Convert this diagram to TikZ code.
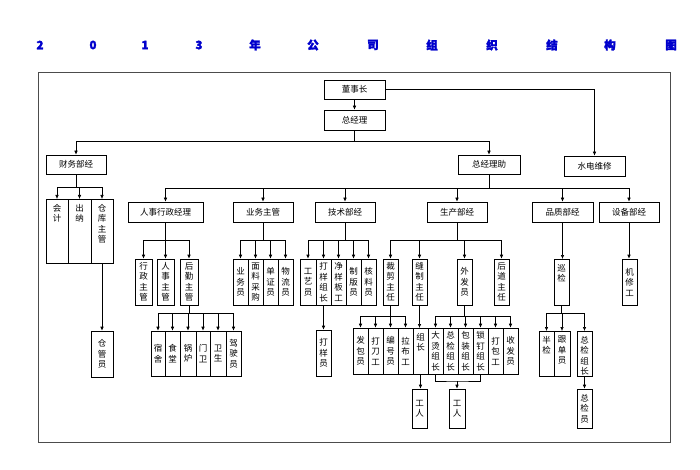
\documentclass[tikz,border=0pt]{standalone}
\usepackage{fontspec}
\setmainfont{Noto Sans CJK SC}
\newfontfamily\ttlfont[FakeBold=2.5]{Noto Sans CJK SC}
\usetikzlibrary{arrows.meta}
\tikzset{
  box/.style={draw,line width=0.6pt,inner sep=0pt,font=\fontsize{8.5}{10.5}\selectfont,align=center},
  arr/.style={line width=0.6pt,-{Latex[length=4pt,width=3.5pt]}},
  ln/.style={line width=0.6pt},
  ttl/.style={text=blue!80!black,font=\ttlfont\bfseries\fontsize{11.5}{12}\selectfont}
}
% name, x1, y1, x2, y2, text
\newcommand{\bx}[6]{\node[box,minimum width={#4pt-#2pt},minimum height={#5pt-#3pt},anchor=center] (#1) at ({(#2+#4)/2},{(#3+#5)/2}) {#6};}
\newcommand{\tbx}[6]{\node[box,minimum width={#4pt-#2pt},minimum height={#5pt-#3pt},anchor=north] (#1) at ({(#2+#4)/2},#3) {};
  \node[anchor=north,align=center,inner sep=0pt,font=\fontsize{8.5}{10.5}\selectfont] at ({(#2+#4)/2},{#3+5}) {#6};}
\begin{document}
\begin{tikzpicture}[x=1pt,y=-1pt]
\useasboundingbox (0,0) rectangle (700,470);
% title
\foreach \c/\x in {2/40,0/93,1/145,3/199,年/255,公/313,司/373,组/432,织/492,结/552,构/610,图/671}
  \node[ttl] at (\x,45) {\c};
\draw[line width=0.8pt,draw=black!70] (38,72) rectangle (670,442);
% top
\bx{dsz}{324}{80}{385}{99}{董事长}
\bx{zjl}{324}{110}{385}{130}{总经理}
\bx{cw}{46}{155}{106}{174}{财务部经}
\bx{zl}{458}{155}{520}{174}{总经理助}
\bx{sd}{564}{156}{625}{176}{水电维修}
\draw[arr] (dsz) -- (zjl);
\draw[arr] (dsz.east) -| (sd.north);
\foreach \c in {cw,zl} \draw[arr] (zjl.south) -- (zjl.south|-0,141) -| (\c.north);
% level 2
\bx{rs}{128}{202}{203}{222}{人事行政经理}
\bx{yw}{233}{202}{293}{222}{业务主管}
\bx{js}{315}{202}{375}{222}{技术部经}
\bx{sc}{427}{202}{487}{222}{生产部经}
\bx{pz}{532}{202}{593}{222}{品质部经}
\bx{sb}{599}{202}{659}{222}{设备部经}
\foreach \c in {rs,yw,js,sc,pz,sb} \draw[arr] (zl.south) -- (zl.south|-0,188) -| (\c.north);
% finance
\tbx{kj}{46}{199}{68}{263}{会\\计}
\tbx{cn}{68}{199}{91}{263}{出\\纳}
\tbx{ck}{91}{199}{113}{263}{仓\\库\\主\\管}
\bx{cgy}{91}{331}{113}{377}{仓\\管\\员}
\foreach \c in {kj,cn,ck} \draw[arr] (cw.south) -- (cw.south|-0,187) -| (\c.north);
\draw[arr] (ck.south) -- (cgy.north);
% renshi
\bx{xz}{135}{259}{152}{305}{行\\政\\主\\管}
\bx{rz}{157}{259}{174}{305}{人\\事\\主\\管}
\bx{hq}{180}{259}{198}{305}{后\\勤\\主\\管}
\foreach \c in {xz,rz,hq} \draw[arr] (rs.south) -- (rs.south|-0,240) -| (\c.north);
\bx{ss}{151}{331}{165}{376}{宿\\舍}
\bx{st}{165}{331}{180}{376}{食\\堂}
\bx{gl}{180}{331}{196}{376}{锅\\炉}
\bx{mw}{196}{331}{210}{376}{门\\卫}
\bx{ws}{210}{331}{226}{376}{卫\\生}
\bx{js2}{226}{331}{241}{376}{驾\\驶\\员}
\foreach \c in {ss,st,gl,mw,ws,js2} \draw[arr] (hq.south) -- (hq.south|-0,313) -| (\c.north);
% yewu
\bx{ywy}{233}{259}{248}{305}{业\\务\\员}
\bx{mlcg}{248}{259}{263}{305}{面\\料\\采\\购}
\bx{dzy}{263}{259}{278}{305}{单\\证\\员}
\bx{wly}{278}{259}{293}{305}{物\\流\\员}
\foreach \c in {ywy,mlcg,dzy,wly} \draw[arr] (yw.south) -- (yw.south|-0,240) -| (\c.north);
% jishu
\bx{gy}{300}{259}{316}{305}{工\\艺\\员}
\bx{dyzz}{316}{259}{331}{305}{打\\样\\组\\长}
\bx{jyb}{331}{259}{346}{305}{净\\样\\板\\工}
\bx{zby}{346}{259}{361}{305}{制\\版\\员}
\bx{hly}{361}{259}{376}{305}{核\\料\\员}
\foreach \c in {gy,dyzz,jyb,zby,hly} \draw[arr] (js.south) -- (js.south|-0,240) -| (\c.north);
\bx{dyy}{316}{330}{331}{376}{打\\样\\员}
\draw[arr] (dyzz.south) -- (dyy.north);
% shengchan
\bx{cj}{383}{259}{398}{305}{裁\\剪\\主\\任}
\bx{fz}{412}{259}{427}{305}{缝\\制\\主\\任}
\bx{wf}{457}{259}{472}{305}{外\\发\\员}
\bx{hd}{494}{259}{509}{305}{后\\道\\主\\任}
\foreach \c in {cj,fz,wf,hd} \draw[arr] (sc.south) -- (sc.south|-0,240) -| (\c.north);
\bx{fby}{353}{328}{368}{374}{发\\包\\员}
\bx{ddg}{368}{328}{383}{374}{打\\刀\\工}
\bx{bhy}{383}{328}{398}{374}{编\\号\\员}
\bx{lbg}{398}{328}{413}{374}{拉\\布\\工}
\tbx{zz}{413}{328}{428}{374}{组\\长}
\bx{dt}{428}{328}{443}{374}{大\\烫\\组\\长}
\bx{zj}{443}{328}{458}{374}{总\\检\\组\\长}
\bx{bz}{458}{328}{473}{374}{包\\装\\组\\长}
\bx{sdz}{473}{328}{488}{374}{锁\\钉\\组\\长}
\bx{dbg}{488}{328}{503}{374}{打\\包\\工}
\bx{sfy}{503}{328}{518}{374}{收\\发\\员}
\foreach \c in {fby,ddg,bhy,lbg} \draw[arr] (cj.south) -- (cj.south|-0,316) -| (\c.north);
\draw[arr] (fz.south) -- (fz.south|-zz.north);
\foreach \c in {dt,zj,bz,sdz,dbg,sfy} \draw[arr] (wf.south) -- (wf.south|-0,316) -| (\c.north);
\bx{gr1}{412}{389}{427}{428}{工\\人}
\bx{gr2}{449}{389}{465}{428}{工\\人}
\draw[arr] (zz.south) -- (zz.south|-gr1.north);
\coordinate (jn) at (457,381);
\draw[ln] (dt.south) |- (jn) -| (sdz.south);
\draw[arr] (jn) -- (gr2.north);
% pinzhi
\tbx{xj}{554}{259}{569}{305}{巡\\检}
\draw[arr] (pz.south) -- (pz.south|-xj.north);
\tbx{bj}{539}{331}{554}{376}{半\\检}
\tbx{gdy}{554}{331}{570}{376}{跟\\单\\员}
\tbx{zjzz}{577}{331}{592}{376}{总\\检\\组\\长}
\foreach \c in {bj,gdy,zjzz} \draw[arr] (xj.south) -- (xj.south|-0,313) -| (\c.north);
\bx{zjy}{577}{389}{592}{428}{总\\检\\员}
\draw[arr] (zjzz.south) -- (zjy.north);
% shebei
\bx{jxg}{622}{259}{637}{305}{机\\修\\工}
\draw[arr] (sb.south) -- (sb.south|-jxg.north);
\end{tikzpicture}
\end{document}
